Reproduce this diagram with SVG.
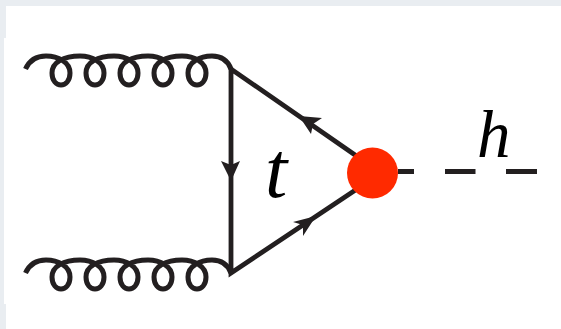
<svg xmlns="http://www.w3.org/2000/svg" width="561" height="329" viewBox="0 0 561 329">
<defs>
<style>
.l{fill:none;stroke:#231f20;stroke-width:4.8}
.g{fill:none;stroke:#231f20;stroke-width:5}
.a{fill:#231f20}
.m{font-family:"Liberation Serif","DejaVu Serif",serif;font-style:italic;fill:#000}
</style>
<path id="gl" d="M25.500 69C30 59 38 56 46 56C58 56 70 62 70 73C70 89 52 89 52 73C52 62 64 56 80 56C92 56 104 62 104 73C104 89 86 89 86 73C86 62 98 56 114 56C126 56 138 62 138 73C138 89 120 89 120 73C120 62 132 56 148 56C160 56 172 62 172 73C172 89 154 89 154 73C154 62 166 56 182 56C194 56 206 62 206 73C206 89 188 89 188 73C188 62 200 56 212 56C222 56 228 61 231 69"/>
</defs>
<rect width="561" height="329" fill="#e9edf1"/>
<path d="M6 6H561V329H6V304H4V38H6Z" fill="#fff"/>
<g id="connectors">
<use href="#gl" class="g" id="gluon-top"/>
<use href="#gl" class="g" id="gluon-bottom" y="204"/>
<path class="l" d="M231 69V273L381 173Z" stroke-linejoin="miter"/>
<path class="l" d="M398 171.500H414M445 171.500H475.500M506 171.500H537"/>
<path class="a" d="M231 181L221 161L231 165L240 161Z"/>
<path class="a" d="M299 116L322 118L313 124L311 134Z"/>
<path class="a" d="M316 216L293 222L303 225L303 236Z"/>
</g>
<g id="vertex"><circle cx="372.500" cy="173" r="25.500" fill="#ff2a00"/></g>
<g id="label-t"><text class="m" x="265" y="197" font-size="80">t</text></g>
<g id="label-h"><text class="m" x="477" y="157" font-size="67">h</text></g>
</svg>
